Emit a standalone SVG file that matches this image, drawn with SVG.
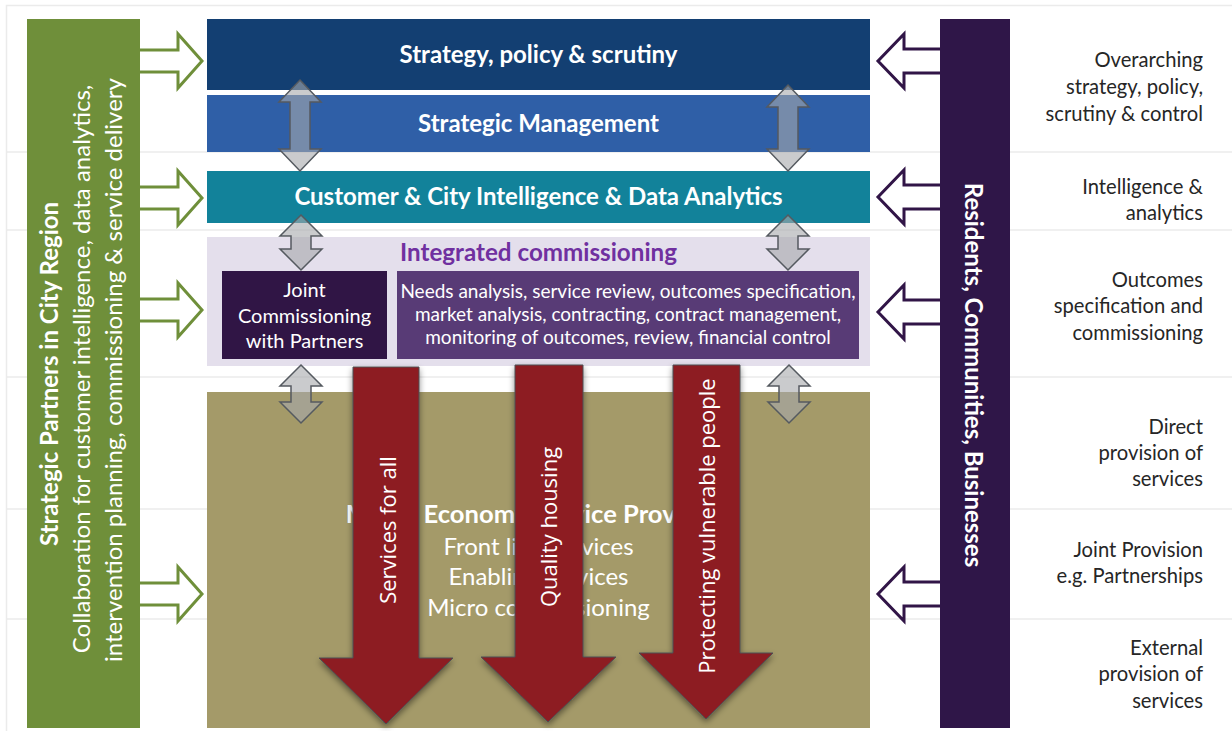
<svg xmlns="http://www.w3.org/2000/svg" width="1232" height="731" viewBox="0 0 1232 731">
<style>
text{font-family:Lato,"Open Sans","Liberation Sans",sans-serif}
.bw{fill:#fff;font-weight:bold}
.w{fill:#fff}
.lbl{fill:#262626;font-size:20.2px;text-anchor:end}
.grid{stroke:#ebebeb;stroke-width:1.5;fill:none}
.garrow{fill:#fff;stroke:#6f8f3a;stroke-width:3;stroke-linejoin:miter}
.parrow{fill:#fff;stroke:#311547;stroke-width:3;stroke-linejoin:miter}
.dbl{fill:#a6a8ac;fill-opacity:0.6;stroke:#555a60;stroke-width:1.5}
.red{fill:#8d1f21;stroke:#4d4f55;stroke-width:1;filter:url(#sh)}
.rt{fill:#fff;font-family:"Open Sans","Noto Sans",sans-serif;font-size:22px;text-anchor:middle}
</style>
<defs>
<filter id="sh" x="-20%" y="-10%" width="140%" height="130%">
<feDropShadow dx="0" dy="3" stdDeviation="3" flood-color="#000" flood-opacity="0.45"/>
</filter>
</defs>
<rect width="1232" height="731" fill="#fff"/>
<g id="grid">
<path class="grid" d="M6.5,731 V5.5 H1232 M6,152 H1232 M6,230 H1232 M6,377 H1232 M6,509 H1232 M6,619 H1232"/>
</g>
<g id="partners">
<rect x="27" y="19" width="113" height="709" fill="#6f8f3a"/>
<text class="bw" font-size="24" text-anchor="middle" transform="translate(58,374) rotate(-90)">Strategic Partners in City Region</text>
<text class="w" font-size="24" text-anchor="middle" transform="translate(90,369) rotate(-90)">Collaboration for customer intelligence, data analytics,</text>
<text class="w" font-size="24" text-anchor="middle" transform="translate(122,370) rotate(-90)">intervention planning, commissioning &amp; service delivery</text>
</g>
<g id="residents">
<rect x="940" y="19" width="70" height="709" fill="#2f1648"/>
<text class="bw" font-size="24" text-anchor="middle" transform="translate(965,375) rotate(90)">Residents, Communities, Businesses</text>
</g>
<g id="strategy">
<rect x="207" y="19" width="663" height="71" fill="#133f72"/>
<text class="bw" font-size="24" x="538.5" y="63" text-anchor="middle">Strategy, policy &amp; scrutiny</text>
</g>
<g id="management">
<rect x="207" y="95" width="663" height="57" fill="#2f5fa7"/>
<text class="bw" font-size="24" x="538.5" y="132" text-anchor="middle">Strategic Management</text>
</g>
<g id="intelligence">
<rect x="207" y="171" width="663" height="52" fill="#12829a"/>
<text class="bw" font-size="24" x="538.5" y="205" text-anchor="middle">Customer &amp; City Intelligence &amp; Data Analytics</text>
</g>
<g id="commissioning">
<rect x="207" y="237" width="663" height="129" fill="#e4dfec"/>
<text font-size="24.2" font-weight="bold" fill="#7030a0" x="538.5" y="261" text-anchor="middle">Integrated commissioning</text>
</g>
<g id="joint">
<rect x="222" y="271" width="165" height="88" fill="#301545"/>
<text class="w" font-size="20" text-anchor="middle"><tspan x="304.5" y="297">Joint</tspan><tspan x="304.5" y="323">Commissioning</tspan><tspan x="304.5" y="348">with Partners</tspan></text>
</g>
<g id="process">
<rect x="397" y="271" width="462" height="88" fill="#583b76"/>
<text class="w" font-size="19" text-anchor="middle"><tspan x="628" y="298">Needs analysis, service review, outcomes specification,</tspan><tspan x="628" y="321">market analysis, contracting, contract management,</tspan><tspan x="628" y="344">monitoring of outcomes, review, financial control</tspan></text>
</g>
<g id="providers">
<rect x="207" y="392" width="663" height="336" fill="#a49a69"/>
<text class="w" font-size="24" text-anchor="middle"><tspan x="538.5" y="523" font-weight="bold" font-size="25.6">Mixed Economy Service Providers</tspan><tspan x="538.5" y="555">Front line services</tspan><tspan x="538.5" y="585">Enabling services</tspan><tspan x="538.5" y="616">Micro commissioning</tspan></text>
</g>
<g id="labels">
<text class="lbl"><tspan x="1203" y="67">Overarching</tspan><tspan x="1203" y="94">strategy, policy,</tspan><tspan x="1203" y="121">scrutiny &amp; control</tspan></text>
<text class="lbl"><tspan x="1203" y="194">Intelligence &amp;</tspan><tspan x="1203" y="220">analytics</tspan></text>
<text class="lbl"><tspan x="1203" y="287">Outcomes</tspan><tspan x="1203" y="313">specification and</tspan><tspan x="1203" y="340">commissioning</tspan></text>
<text class="lbl"><tspan x="1203" y="434">Direct</tspan><tspan x="1203" y="460">provision of</tspan><tspan x="1203" y="486">services</tspan></text>
<text class="lbl"><tspan x="1203" y="557">Joint Provision</tspan><tspan x="1203" y="583">e.g. Partnerships</tspan></text>
<text class="lbl"><tspan x="1203" y="655">External</tspan><tspan x="1203" y="681">provision of</tspan><tspan x="1203" y="708">services</tspan></text>
</g>
<g id="connectors">
<path class="garrow" d="M140,50 H178 V34 L202,61 L178,88 V72 H140"/>
<path class="garrow" d="M140,187 H178 V171 L202,198 L178,225 V209 H140"/>
<path class="garrow" d="M140,299 H178 V283 L202,310 L178,337 V321 H140"/>
<path class="garrow" d="M140,583 H178 V567 L202,594 L178,621 V605 H140"/>
<path class="parrow" d="M940,49 H904 V34 L878,61 L904,88 V73 H940"/>
<path class="parrow" d="M940,185 H904 V170 L878,197 L904,224 V209 H940"/>
<path class="parrow" d="M940,300 H904 V285 L878,312 L904,339 V324 H940"/>
<path class="parrow" d="M940,582 H904 V567 L878,594 L904,621 V606 H940"/>
<path class="dbl" d="M300,80 L321,102 L310,102 L310,149 L321,149 L300,171 L279,149 L290,149 L290,102 L279,102 Z"/>
<path class="dbl" d="M788,85 L809,107 L798,107 L798,149 L809,149 L788,171 L767,149 L778,149 L778,107 L767,107 Z"/>
<path class="dbl" d="M301,215 L322,236 L311,236 L311,249 L322,249 L301,270 L280,249 L291,249 L291,236 L280,236 Z"/>
<path class="dbl" d="M788,215 L809,236 L798,236 L798,249 L809,249 L788,270 L767,249 L778,249 L778,236 L767,236 Z"/>
<path class="dbl" d="M301,365 L322,386 L311,386 L311,402 L322,402 L301,423 L280,402 L291,402 L291,386 L280,386 Z"/>
<path class="dbl" d="M789,365 L810,386 L799,386 L799,402 L810,402 L789,423 L768,402 L779,402 L779,386 L768,386 Z"/>
<path class="red" d="M353,367 H419 V658 H453 L386,724 L319,658 H353 Z"/>
<path class="red" d="M515,365 H583 V657 H616 L548,722 L481,657 H515 Z"/>
<path class="red" d="M673,365 H740 V653 H773 L706,719 L639,653 H673 Z"/>
<text class="rt" transform="translate(396,530) rotate(-90)">Services for all</text>
<text class="rt" transform="translate(557,527) rotate(-90)">Quality housing</text>
<text class="rt" transform="translate(715,526) rotate(-90)">Protecting vulnerable people</text>
</g>
</svg>
